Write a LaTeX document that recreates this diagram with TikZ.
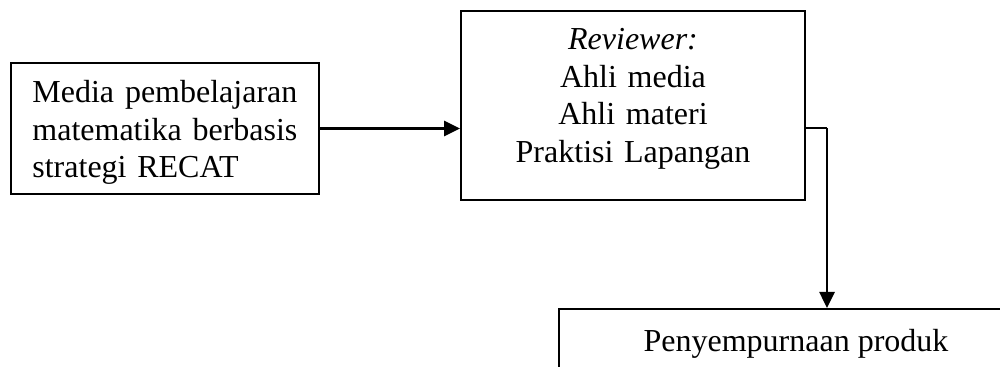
\documentclass[tikz,border=0pt]{standalone}
\usepackage{fontspec}
\setmainfont{Liberation Serif}
\usetikzlibrary{arrows.meta}
\begin{document}
\begin{tikzpicture}[x=0.5pt,y=-0.5pt,
  boxnode/.style={draw=black,line width=0.9pt,rectangle,inner sep=0pt},
  txt/.style={inner sep=0pt,font={\fontsize{16pt}{18.7pt}\selectfont}},
  conn/.style={line width=1.3pt,-{Triangle[length=8pt,width=7.5pt]}},
  connplain/.style={line width=1.3pt}]
\useasboundingbox (0,0) rectangle (1000,367);
\clip (0,0) rectangle (1000,367);
% boxes
\node[boxnode,minimum width=154pt,minimum height=65.5pt] (left) at (165,128.5) {};
\node[boxnode,minimum width=172pt,minimum height=94.5pt] (mid) at (633,105.5) {};
\node[boxnode,minimum width=241pt,minimum height=60pt,anchor=north west] (bot) at (558,308) {};
% texts
\node[txt,text width=132.5pt,align=left,anchor=base west] (lefttxt) at (32,103)
  {Media\hfill pembelajaran\\matematika\hfill berbasis\\strategi RECAT};
\node[txt,text width=170pt,align=center,anchor=base] (midtxt) at (633,50)
  {\textit{Reviewer:}\\Ahli media\\Ahli materi\\Praktisi Lapangan};
\node[txt,anchor=base] (bottxt) at (796,352) {Penyempurnaan produk};
% connectors
\coordinate (bend) at (827,128);
\draw[conn] (left.east) -- (left.east -| mid.west);
\draw[connplain] (mid.east |- bend) -- (bend);
\draw[conn] (bend) -- (bend |- bot.north);
\end{tikzpicture}
\end{document}
